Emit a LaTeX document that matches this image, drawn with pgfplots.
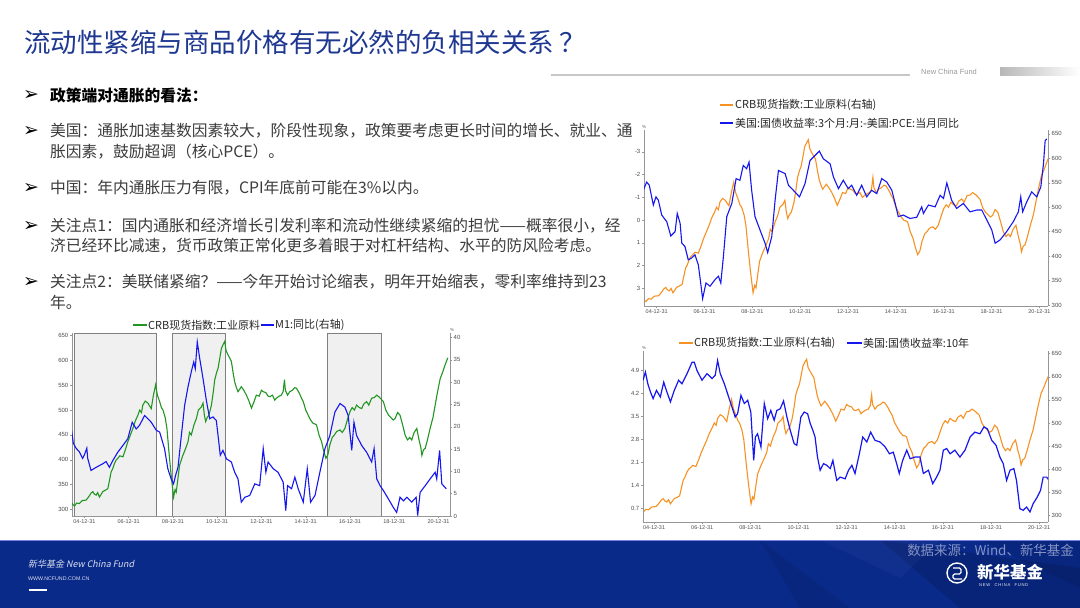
\documentclass[border=0pt]{standalone}
\usepackage{fontspec}
\usepackage{pgfplots}
\usepackage{pgfplotstable}
\pgfplotsset{compat=1.18}
\setmainfont{Noto Sans CJK SC}
\newfontfamily\slantcjk{Noto Sans CJK SC}[FakeSlant=0.2]
\newfontfamily\dejavu{DejaVu Sans}
\newfontfamily\arial{Liberation Sans}
\definecolor{titleblue}{RGB}{30,55,145}
\definecolor{bodytxt}{RGB}{60,60,60}
\definecolor{footblue}{RGB}{10,42,138}
\definecolor{cgreen}{RGB}{34,150,34}
\definecolor{cblue}{RGB}{22,22,238}
\definecolor{corange}{RGB}{246,146,36}
\definecolor{axgray}{RGB}{150,150,150}

\pgfplotstableread{
t v
2004.40 315
2004.48 310
2004.55 307
2004.65 313
2004.77 312
2004.90 318
2005.08 319
2005.20 326
2005.30 333
2005.38 336
2005.45 331
2005.53 329
2005.60 334
2005.68 325
2005.75 330
2005.83 336
2005.95 339
2006.06 342
2006.14 360
2006.21 376
2006.28 382
2006.36 393
2006.44 400
2006.51 403
2006.60 408
2006.74 406
2006.85 420
2006.96 436
2007.08 450
2007.19 463
2007.30 478
2007.42 490
2007.50 500
2007.58 495
2007.64 510
2007.75 518
2007.87 514
2007.95 508
2008.02 503
2008.12 530
2008.22 551
2008.30 530
2008.40 517
2008.48 505
2008.55 500
2008.65 485
2008.73 463
2008.82 416
2008.92 369
2009.03 325
2009.10 340
2009.15 335
2009.22 360
2009.30 389
2009.38 400
2009.45 409
2009.55 420
2009.68 436
2009.75 455
2009.83 450
2009.95 470
2010.06 483
2010.15 500
2010.28 506
2010.36 514
2010.42 490
2010.48 477
2010.55 485
2010.63 490
2010.74 510
2010.82 535
2010.89 561
2010.97 575
2011.04 584
2011.12 605
2011.19 624
2011.27 632
2011.34 638
2011.40 620
2011.49 611
2011.56 605
2011.64 598
2011.72 575
2011.79 557
2011.87 545
2011.94 537
2012.02 542
2012.09 547
2012.20 540
2012.32 530
2012.42 520
2012.55 504
2012.65 515
2012.77 530
2012.90 528
2013.00 540
2013.08 537
2013.20 535
2013.30 528
2013.38 527
2013.50 530
2013.60 520
2013.68 524
2013.80 528
2013.90 530
2013.98 537
2014.04 561
2014.08 540
2014.18 530
2014.28 537
2014.40 540
2014.50 545
2014.58 544
2014.70 535
2014.80 525
2014.89 517
2015.00 500
2015.11 490
2015.22 480
2015.34 473
2015.42 472
2015.49 470
2015.60 450
2015.72 436
2015.80 420
2015.91 403
2016.00 410
2016.09 430
2016.20 445
2016.30 450
2016.40 457
2016.55 460
2016.65 455
2016.77 463
2016.88 480
2017.00 497
2017.10 505
2017.20 500
2017.30 510
2017.42 505
2017.53 503
2017.62 512
2017.75 517
2017.85 510
2017.98 524
2018.10 525
2018.21 530
2018.35 525
2018.51 517
2018.62 500
2018.74 490
2018.85 485
2018.95 480
2019.04 483
2019.15 495
2019.26 490
2019.38 470
2019.49 450
2019.60 440
2019.70 445
2019.79 440
2019.90 455
2020.02 463
2020.12 440
2020.20 425
2020.25 409
2020.32 420
2020.40 423
2020.50 440
2020.62 463
2020.75 485
2020.85 510
2020.95 535
2021.08 564
2021.18 575
2021.30 591
2021.42 605
}\crb

\pgfplotstableread{
t v
2004.40 19.9
2004.50 16.3
2004.62 15.2
2004.77 14.4
2004.92 12.9
2005.00 13.7
2005.11 15.2
2005.15 12.9
2005.30 10.2
2005.53 10.9
2005.83 11.7
2005.98 12.2
2006.13 10.9
2006.28 12.4
2006.51 14.3
2006.74 15.8
2006.96 17.3
2007.16 21.0
2007.34 19.5
2007.49 20.3
2007.72 22.5
2007.87 21.8
2008.02 21.0
2008.25 19.2
2008.40 18.8
2008.62 15.1
2008.77 10.6
2008.92 8.3
2009.03 7.2
2009.12 9.1
2009.23 10.9
2009.38 18.0
2009.53 24.8
2009.68 28.9
2009.83 32.3
2009.94 34.5
2010.01 33.0
2010.10 39.0
2010.21 35.3
2010.36 30.8
2010.51 25.9
2010.66 21.8
2010.81 22.2
2010.96 21.4
2011.04 18.0
2011.14 13.6
2011.26 14.7
2011.42 12.8
2011.64 12.1
2011.79 9.8
2011.94 8.3
2012.09 3.1
2012.25 4.2
2012.47 4.6
2012.70 7.2
2012.92 6.8
2013.08 15.1
2013.20 9.8
2013.30 12.1
2013.53 10.6
2013.75 9.8
2013.98 7.6
2014.10 1.2
2014.18 6.8
2014.36 6.1
2014.51 8.7
2014.66 6.1
2014.89 3.1
2015.07 10.6
2015.22 3.1
2015.42 4.6
2015.64 9.8
2015.87 15.1
2016.09 18.0
2016.32 23.3
2016.55 25.2
2016.77 24.4
2016.92 22.5
2017.08 14.7
2017.18 21.0
2017.30 18.0
2017.53 15.8
2017.75 14.3
2017.98 12.1
2018.09 15.1
2018.21 8.3
2018.36 6.8
2018.51 5.7
2018.74 3.8
2018.96 1.9
2019.11 0.8
2019.26 4.2
2019.42 3.4
2019.57 4.2
2019.79 3.1
2019.99 4.2
2020.06 0.1
2020.17 5.3
2020.40 6.8
2020.62 8.3
2020.85 9.8
2020.92 8.3
2021.05 14.7
2021.15 7.2
2021.35 6.1
}\mone

\pgfplotstableread{
t v
2004.44 -1.31
2004.58 -1.67
2004.69 -1.53
2004.86 -0.66
2004.97 -1.02
2005.07 -0.87
2005.21 -0.22
2005.42 0.07
2005.59 0.70
2005.77 0.51
2005.86 -0.29
2005.98 0.15
2006.05 1.02
2006.18 1.16
2006.32 1.75
2006.46 1.67
2006.60 1.53
2006.74 1.97
2006.84 2.77
2006.92 3.46
2007.06 2.77
2007.23 2.91
2007.44 2.62
2007.58 2.47
2007.68 2.77
2007.79 1.60
2007.93 -0.15
2008.14 -0.73
2008.32 -1.82
2008.48 -1.75
2008.62 -2.40
2008.76 -2.26
2008.86 -2.55
2008.97 -1.31
2009.11 -0.15
2009.32 0.44
2009.53 1.02
2009.64 1.43
2009.81 0.73
2009.95 -0.87
2010.09 -2.18
2010.23 -2.11
2010.37 -2.04
2010.51 -1.53
2010.71 -1.31
2010.97 -1.02
2011.20 -1.60
2011.41 -2.62
2011.62 -2.84
2011.80 -3.03
2011.97 -2.69
2012.25 -2.47
2012.39 -1.89
2012.60 -1.38
2012.80 -1.75
2013.01 -1.38
2013.15 -1.53
2013.36 -1.09
2013.57 -1.53
2013.78 -1.02
2013.99 -1.31
2014.20 -1.16
2014.41 -1.82
2014.62 -1.67
2014.83 -1.31
2014.97 -0.73
2015.10 -0.15
2015.31 -0.22
2015.59 -0.07
2015.87 -0.12
2016.08 -0.58
2016.15 -0.29
2016.36 -0.66
2016.64 -0.58
2016.85 -1.09
2016.99 -0.95
2017.13 -1.63
2017.33 -0.87
2017.54 -0.51
2017.82 -0.73
2018.10 -0.36
2018.38 -0.44
2018.59 -0.44
2018.80 0.00
2019.01 0.44
2019.15 1.02
2019.36 0.87
2019.63 0.51
2019.91 0.07
2020.12 -0.36
2020.22 -1.02
2020.30 -0.36
2020.47 -0.80
2020.68 -1.24
2020.89 -1.02
2021.06 -1.46
2021.17 -2.47
2021.24 -3.49
2021.31 -3.57
}\spread

\pgfplotstableread{
t v
2004.54 4.60
2004.64 4.85
2004.74 4.49
2004.85 4.24
2004.96 4.04
2005.10 4.29
2005.26 4.09
2005.40 4.54
2005.51 4.29
2005.68 3.94
2005.84 4.29
2006.02 4.60
2006.16 4.49
2006.37 4.80
2006.58 5.15
2006.67 5.15
2006.78 4.90
2006.99 4.60
2007.20 4.80
2007.41 4.65
2007.54 4.75
2007.64 5.20
2007.75 4.80
2007.92 4.49
2008.10 4.09
2008.24 3.78
2008.37 3.48
2008.47 3.58
2008.61 4.14
2008.75 3.89
2008.89 3.99
2009.02 3.63
2009.14 2.16
2009.21 2.87
2009.30 2.97
2009.44 2.57
2009.58 3.89
2009.72 3.43
2009.85 3.68
2009.99 3.38
2010.10 3.68
2010.24 3.73
2010.38 3.97
2010.52 3.48
2010.66 3.07
2010.82 2.67
2010.93 2.62
2011.10 3.48
2011.24 3.63
2011.38 3.58
2011.49 3.28
2011.60 3.07
2011.69 2.87
2011.79 2.26
2011.90 1.86
2012.04 2.06
2012.18 2.01
2012.32 1.91
2012.43 2.16
2012.59 1.55
2012.73 1.65
2012.94 1.60
2013.08 1.86
2013.22 2.01
2013.35 1.76
2013.53 2.36
2013.67 2.87
2013.84 2.72
2014.00 3.02
2014.18 2.77
2014.39 2.72
2014.60 2.57
2014.78 2.36
2014.94 2.41
2015.08 2.06
2015.19 1.76
2015.33 2.16
2015.50 2.47
2015.64 2.21
2015.84 2.26
2016.05 2.26
2016.19 1.76
2016.40 1.86
2016.58 1.45
2016.74 1.65
2016.88 1.86
2017.02 2.47
2017.16 2.52
2017.30 2.36
2017.50 2.47
2017.71 2.26
2017.92 2.47
2018.13 2.87
2018.33 3.02
2018.54 2.97
2018.71 3.18
2018.85 3.12
2019.03 2.77
2019.21 2.62
2019.37 2.26
2019.51 2.06
2019.65 1.55
2019.79 1.86
2019.95 1.91
2020.06 1.55
2020.20 0.69
2020.34 0.64
2020.48 0.74
2020.62 0.59
2020.75 0.84
2020.92 1.04
2021.06 1.25
2021.17 1.65
2021.31 1.65
2021.42 1.55
}\tenyr

\pgfplotsset{
  wind/.style={
    scale only axis, anchor=south west, clip=true,
    axis line style={-,axgray,line width=0.5bp},
    tick style={axgray,line width=0.4bp},
    major tick length=2bp, minor tick length=1.5bp,
    tick align=outside,
    yticklabel style={font=\arial\fontsize{6}{7}\selectfont, text=black!70, inner sep=1.5bp},
    xticklabel style={font=\arial\fontsize{5.5}{6}\selectfont, text=black!70, inner sep=1.5bp},
    /pgf/number format/assume math mode=true,
    xtick={2005,2007,...,2021},
    xticklabels={04-12-31,06-12-31,08-12-31,10-12-31,12-12-31,14-12-31,16-12-31,18-12-31,20-12-31},
    minor xtick={2006,2008,...,2020},
  },
}

\begin{document}
\begin{tikzpicture}[x=1bp,y=1bp]
\useasboundingbox (0,0) rectangle (1080,608);
\fill[white] (0,0) rectangle (1080,608);

% ---------- header ----------
\node[anchor=west,inner sep=0,text=titleblue,font=\fontsize{26.6}{30}\selectfont] at (24,566) {流动性紧缩与商品价格有无必然的负相关关系\hspace{5bp}？};
\draw[black!22,line width=1.2bp] (551,533) -- (910,533);
\node[anchor=west,inner sep=0,text=black!40,font=\arial\fontsize{7.5}{8}\selectfont] at (921,536) {New China Fund};
\shade[left color=black!28,right color=white] (1000,532) rectangle (1080,540);

% ---------- bullet text ----------
\begin{scope}[every node/.style={anchor=west,inner sep=0}]
\foreach \yy in {513,477,420,382,326}{
  \node[font=\dejavu\fontsize{19}{19}\selectfont,text=black] at (23,\yy) {➢};
}
\node[font=\fontsize{15.8}{18}\selectfont\bfseries,text=black] at (50,513) {政策端对通胀的看法：};
\node[font=\fontsize{15.8}{18}\selectfont,text=bodytxt] at (50,477) {美国：通胀加速基数因素较大，阶段性现象，政策要考虑更长时间的增长、就业、通};
\node[font=\fontsize{15.8}{18}\selectfont,text=bodytxt] at (50,456) {胀因素，鼓励超调（核心PCE）。};
\node[font=\fontsize{15.8}{18}\selectfont,text=bodytxt] at (50,420) {中国：年内通胀压力有限，CPI年底前可能在3\%以内。};
\node[font=\fontsize{15.8}{18}\selectfont,text=bodytxt] at (50,382) {关注点1：国内通胀和经济增长引发利率和流动性继续紧缩的担忧——概率很小，经};
\node[font=\fontsize{15.8}{18}\selectfont,text=bodytxt] at (50,362) {济已经环比减速，货币政策正常化更多着眼于对杠杆结构、水平的防风险考虑。};
\node[font=\fontsize{15.8}{18}\selectfont,text=bodytxt] at (50,326) {关注点2：美联储紧缩？——今年开始讨论缩表，明年开始缩表，零利率维持到23};
\node[font=\fontsize{15.8}{18}\selectfont,text=bodytxt] at (50,306) {年。};
\end{scope}

% ---------- chart 1 (bottom left) ----------
\begin{axis}[wind, at={(72bp,92bp)}, width=378bp, height=183bp,
  xmin=2004.44, xmax=2021.52, ymin=287, ymax=655,
  axis x line*=bottom, axis y line*=left, ytick={300,350,...,650}]
\addplot[fill=black!6, draw=black!50, line width=0.6bp] coordinates {(2004.55,287) (2004.55,655) (2008.24,655) (2008.24,287)} -- cycle;
\addplot[fill=black!6, draw=black!50, line width=0.6bp] coordinates {(2008.95,287) (2008.95,655) (2011.37,655) (2011.37,287)} -- cycle;
\addplot[fill=black!6, draw=black!50, line width=0.6bp] coordinates {(2015.99,287) (2015.99,655) (2018.43,655) (2018.43,287)} -- cycle;
\addplot[cgreen, line width=1.1bp] table[x=t,y=v] {\crb};
\end{axis}
\begin{axis}[wind, at={(72bp,92bp)}, width=378bp, height=183bp,
  xmin=2004.44, xmax=2021.52, ymin=0, ymax=41,
  axis x line=none, axis y line*=right, ytick={0,5,...,40}]
\addplot[cblue, line width=1.1bp] table[x=t,y=v] {\mone};
\end{axis}
\node[anchor=south,inner sep=0,font=\arial\fontsize{4.5}{5}\selectfont,text=black!60] at (452,276) {\%};
% legend 1
\draw[cgreen,line width=1.3bp] (133,283) -- (147,283);
\node[anchor=west,inner sep=0,font=\fontsize{11}{12}\selectfont,text=black!85] at (148,283) {CRB现货指数:工业原料};
\draw[cblue,line width=1.3bp] (261,283) -- (274,283);
\node[anchor=west,inner sep=0,font=\fontsize{11}{12}\selectfont,text=black!85] at (275,283) {M1:同比(右轴)};

% ---------- chart 2 (top right) ----------
\begin{axis}[wind, at={(644bp,302bp)}, width=404bp, height=176bp,
  xmin=2004.47, xmax=2021.36, ymin=298, ymax=658,
  axis x line=none, axis y line*=right, ytick={300,350,...,650}]
\addplot[corange, line width=1.1bp] table[x=t,y=v] {\crb};
\end{axis}
\begin{axis}[wind, at={(644bp,302bp)}, width=404bp, height=176bp,
  xmin=2004.47, xmax=2021.36, y dir=reverse, ymin=-3.96, ymax=3.78,
  axis x line*=bottom, axis y line*=left, ytick={-3,-2,-1,0,1,2,3},
  yticklabels={-3,-2,-1,0,1,2,3}]
\addplot[cblue, line width=1.1bp] table[x=t,y=v] {\spread};
\end{axis}
\node[anchor=south,inner sep=0,font=\arial\fontsize{4.5}{5}\selectfont,text=black!60] at (644,479) {\%};
% legend 2
\draw[corange,line width=1.3bp] (720,503) -- (733,503);
\node[anchor=west,inner sep=0,font=\fontsize{11}{12}\selectfont,text=black!85] at (735,503) {CRB现货指数:工业原料(右轴)};
\draw[cblue,line width=1.3bp] (720,485) -- (733,485);
\node[anchor=west,inner sep=0,font=\fontsize{11}{12}\selectfont,text=black!85] at (735,485) {美国:国债收益率:3个月:月:-美国:PCE:当月同比};

% ---------- chart 3 (bottom right) ----------
\begin{axis}[wind, at={(643bp,86bp)}, width=405bp, height=171bp,
  xmin=2004.54, xmax=2021.37, ymin=285.6, ymax=655.8,
  axis x line=none, axis y line*=right, ytick={300,350,...,650}]
\addplot[corange, line width=1.1bp] table[x=t,y=v] {\crb};
\end{axis}
\begin{axis}[wind, at={(643bp,86bp)}, width=405bp, height=171bp,
  xmin=2004.54, xmax=2021.37, ymin=0.284, ymax=5.49,
  axis x line*=bottom, axis y line*=left,
  ytick={0.7,1.4,2.1,2.8,3.5,4.2,4.9},
  yticklabels={0.7,1.4,2.1,2.8,3.5,4.2,4.9}]
\addplot[cblue, line width=1.2bp] table[x=t,y=v] {\tenyr};
\end{axis}
\node[anchor=south,inner sep=0,font=\arial\fontsize{4.5}{5}\selectfont,text=black!60] at (644,258) {\%};
% legend 3
\draw[corange,line width=1.3bp] (679,265) -- (693,265);
\node[anchor=west,inner sep=0,font=\fontsize{11}{12}\selectfont,text=black!85] at (694,265) {CRB现货指数:工业原料(右轴)};
\draw[cblue,line width=1.3bp] (847,265) -- (862,265);
\node[anchor=west,inner sep=0,font=\fontsize{11}{12}\selectfont,text=black!85] at (863,265) {美国:国债收益率:10年};

% ---------- footer ----------
\fill[footblue] (0,0) rectangle (1080,68);
\fill[black,opacity=0.08] (760,68) -- (850,0) -- (800,0) -- cycle;
\fill[black,opacity=0.12] (880,68) -- (960,0) -- (1080,0) -- (1080,40) -- cycle;
\fill[black,opacity=0.08] (980,68) -- (1080,68) -- (1080,20) -- cycle;
\fill[white,opacity=0.03] (820,68) -- (900,30) -- (940,68) -- cycle;
\draw[blue!35!white!70!footblue,line width=0.8bp] (0,68) -- (1080,68);
\node[anchor=west,inner sep=0,text=white!85!footblue,font=\slantcjk\fontsize{9}{10}\selectfont] at (28,44) {新华基金 New China Fund};
\node[anchor=west,inner sep=0,text=white!85!footblue,font=\arial\fontsize{5.3}{6}\selectfont] at (28,29) {WWW.NCFUND.COM.CN};
\draw[white,line width=1.6bp] (29,18) -- (47,18);
\node[anchor=east,inner sep=0,text=white!50!footblue,font=\fontsize{13.5}{14}\selectfont] at (1074,58) {数据来源：Wind、新华基金};
\draw[white,line width=1.4bp] (957,35) circle (10);
\draw[white,line width=1.2bp,rounded corners=1.5bp] (953,40) -- (961,40) -- (961,34) -- (953,34) -- (953,29) -- (962,29);
\node[anchor=west,inner sep=0,text=white,font=\fontsize{16.5}{17}\selectfont\bfseries] at (977,36) {新华基金};
\node[anchor=west,inner sep=0,text=white!90!footblue,font=\arial\fontsize{4.2}{5}\selectfont] at (979,22.5) {N\,E\,W\quad C\,H\,I\,N\,A\quad F\,U\,N\,D};
\end{tikzpicture}
\end{document}
